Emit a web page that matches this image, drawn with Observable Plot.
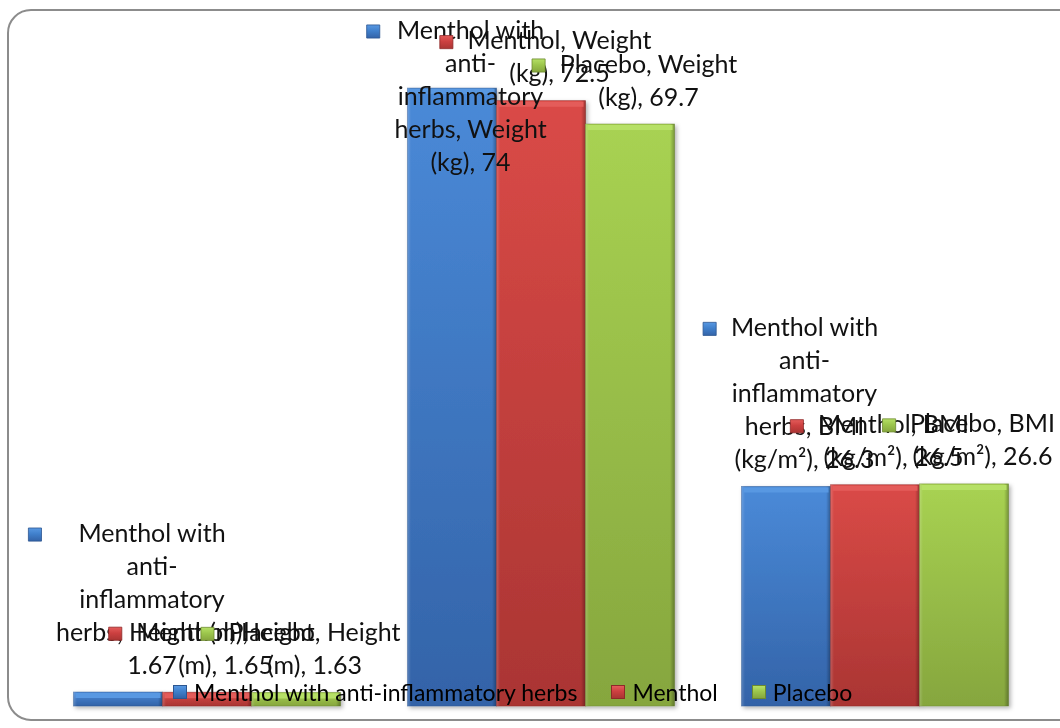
<!DOCTYPE html>
<html>
<head>
<meta charset="utf-8">
<script src="https://cdn.jsdelivr.net/npm/d3@7"></script>
<script src="https://cdn.jsdelivr.net/npm/@observablehq/plot@0.6"></script>
<style>
  html, body { margin: 0; padding: 0; background: #fff; overflow: hidden; }
  #wrap { position: relative; width: 1060px; height: 728px; overflow: hidden; font-family: Lato, "Open Sans", sans-serif; }
  #frame { position: absolute; left: 7px; top: 9px; width: 1100px; height: 712px; box-sizing: border-box;
           border: 2px solid #8c8c8c; border-radius: 24px; }
  #chart { position: absolute; left: 0; top: 0; }
  #legend { position: absolute; left: 173px; top: 678px; display: flex; align-items: center; font-size: 23px; color: #000; white-space: nowrap; }
  #legend .item { display: flex; align-items: center; margin-right: 34px; }
  #legend .key { width: 14px; height: 14px; margin-right: 7px; box-sizing: border-box; }
</style>
</head>
<body>
<div id="wrap">
  <div id="frame"></div>
  <div id="chart"></div>
  <div id="legend"></div>
</div>
<script>
// ---- data ----
const categories = ["Height (m)", "Weight (kg)", "BMI (kg/m²)"];
const seriesNames = ["Menthol with anti-inflammatory herbs", "Menthol", "Placebo"];
const heightValues = [1.67, 1.65, 1.63];
const weightValues = [74, 72.5, 69.7];
const bmiValues = [26.3, 26.5, 26.6];
const seriesColors = ["#4080cc", "#cc4040", "#9cc64c"];
const gradTop = ["#4a8ad8", "#da4a47", "#a8d252"];
const gradBottom = ["#3363a8", "#aa3533", "#86a63e"];
const bevelColors = ["#5898e2", "#e45c5a", "#b6e066"];
const edgeColors = ["#2c5690", "#8e2a28", "#6d8a30"];

// ---- layout ----
const W = 1060, H = 728;
const margin = {left: 38.5, right: 18, top: 38, bottom: 22};
const yMax = 80;
const FS = 25, LH = 33;
const WRAP = 7.77 * FS;
const FONT = "Lato, 'Open Sans', sans-serif";

const valuesByCategory = [heightValues, weightValues, bmiValues];
const rows = [];
seriesNames.forEach((s, si) => categories.forEach((c, ci) =>
  rows.push({category: c, series: s, si, ci, value: valuesByCategory[ci][si]})));

const ctx = document.createElement("canvas").getContext("2d");
ctx.font = `${FS}px Lato`;
const mw = s => ctx.measureText(s).width;

function wrap(text, maxW) {
  const pieces = text.match(/[^\s-]+-?\s*|-\s*|\s+/g);
  const lines = [];
  let line = "";
  for (const p of pieces) {
    const cand = line + p;
    if (line === "" || mw(cand.trimEnd()) <= maxW) line = cand;
    else { lines.push(line.trimEnd()); line = p; }
  }
  if (line) lines.push(line.trimEnd());
  return lines;
}

const fxScale = d3.scaleBand(categories, [margin.left, W - margin.right]).paddingInner(0.2).paddingOuter(0.1);
const bw = fxScale.bandwidth() / seriesNames.length;
const yScale = d3.scaleLinear([0, yMax], [H - margin.bottom, margin.top]);

const labelMarks = [];
for (const r of rows) {
  const lines = wrap(`${r.series}, ${r.category}, ${r.value}`, WRAP);
  const n = lines.length;
  const maxW = d3.max(lines, mw);
  const barCx = fxScale(r.category) + bw * (r.si + 0.5);
  const barTop = yScale(r.value);
  const textCx = Math.max(barCx + 18, 33 + 21 + maxW / 2);
  const lastBase = Math.max(barTop - 19, 38 + (n - 1) * LH);
  const firstCenter = lastBase - (n - 1) * LH - 7;
  labelMarks.push(Plot.dot([r], {
    fx: "category", x: "series", y: "value", symbol: "square", r: 7.4,
    fill: `url(#k${r.si})`, stroke: edgeColors[r.si], strokeWidth: 0.8,
    dx: textCx - maxW / 2 - 21 - barCx, dy: firstCenter - barTop
  }));
  labelMarks.push(Plot.text([r], {
    fx: "category", x: "series", y: "value", text: () => lines.join("\n"),
    lineAnchor: "bottom", lineHeight: LH / FS, fontSize: FS, fill: "#111",
    textAnchor: "middle", dx: textCx - barCx, dy: lastBase - barTop
  }));
}

const barMarks = [];
seriesNames.forEach((s, si) => {
  const data = rows.filter(d => d.si === si);
  barMarks.push(Plot.barY(data, {fx: "category", x: "series", y: "value", fill: `url(#g${si})`,
    stroke: edgeColors[si], strokeWidth: 0.8, strokeOpacity: 0.6}));
  barMarks.push(Plot.barY(data, {fx: "category", x: "series", y: "value", fill: "url(#side)"}));
  barMarks.push(Plot.tickY(data, {fx: "category", x: "series", y: "value", stroke: bevelColors[si],
    strokeWidth: 5, dy: 3, inset: 2}));
});

const plot = Plot.plot({
  width: W, height: H,
  marginLeft: margin.left, marginRight: margin.right, marginTop: margin.top, marginBottom: margin.bottom,
  fx: {domain: categories, paddingInner: 0.2, paddingOuter: 0.1, axis: null, label: null},
  x: {domain: seriesNames, padding: 0, axis: null, label: null},
  y: {domain: [0, yMax], axis: null, label: null},
  style: {background: "transparent", fontFamily: FONT, overflow: "visible"},
  marks: [...barMarks, ...labelMarks]
});

const svg = d3.select(plot);
const defs = svg.insert("defs", ":first-child");
seriesNames.forEach((s, si) => {
  const g = defs.append("linearGradient").attr("id", `g${si}`).attr("x1", 0).attr("y1", 0).attr("x2", 0).attr("y2", 1);
  g.append("stop").attr("offset", "0%").attr("stop-color", gradTop[si]);
  g.append("stop").attr("offset", "100%").attr("stop-color", gradBottom[si]);
  const k = defs.append("linearGradient").attr("id", `k${si}`).attr("x1", 0).attr("y1", 0).attr("x2", 0).attr("y2", 1);
  k.append("stop").attr("offset", "0%").attr("stop-color", bevelColors[si]);
  k.append("stop").attr("offset", "45%").attr("stop-color", seriesColors[si]);
  k.append("stop").attr("offset", "100%").attr("stop-color", gradBottom[si]);
});
const side = defs.append("linearGradient").attr("id", "side").attr("x1", 0).attr("y1", 0).attr("x2", 1).attr("y2", 0);
[["0%", "#fff", 0.18], ["4%", "#fff", 0], ["95%", "#000", 0], ["100%", "#000", 0.28]].forEach(([o, c, a]) =>
  side.append("stop").attr("offset", o).attr("stop-color", c).attr("stop-opacity", a));
const f = defs.append("filter").attr("id", "shadow").attr("x", "-10%").attr("y", "-10%").attr("width", "130%").attr("height", "130%");
f.append("feDropShadow").attr("dx", 2).attr("dy", 2).attr("stdDeviation", 2).attr("flood-opacity", 0.3);
svg.selectAll("g[aria-label='bar']").filter((d, i) => i % 2 === 0).attr("filter", "url(#shadow)");

document.getElementById("chart").appendChild(plot);

// legend
const legend = d3.select("#legend");
seriesNames.forEach((s, si) => {
  const item = legend.append("div").attr("class", "item");
  item.append("div").attr("class", "key")
    .style("background", `linear-gradient(${bevelColors[si]}, ${seriesColors[si]} 45%, ${gradBottom[si]})`)
    .style("border", `1px solid ${edgeColors[si]}`);
  item.append("span").text(s);
});
</script>
</body>
</html>
